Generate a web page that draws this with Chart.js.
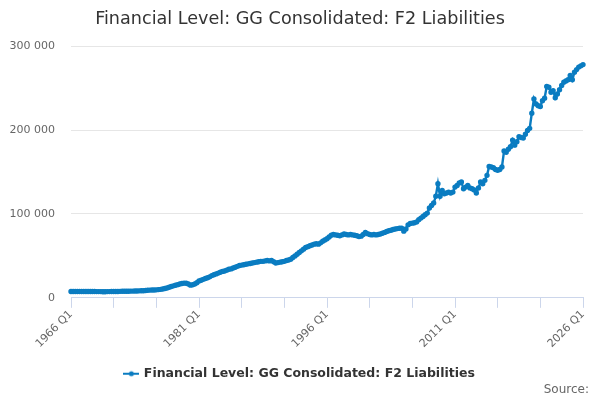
<!DOCTYPE html>
<html>
<head>
<meta charset="utf-8">
<script src="https://cdn.jsdelivr.net/npm/chart.js@4/dist/chart.umd.min.js"></script>
<style>
  html, body { margin: 0; padding: 0; background: #fff; }
  #wrap { width: 600px; height: 400px; }
</style>
</head>
<body>
<div id="wrap"><canvas id="chart"></canvas></div>
<script>
const firstYear = 1966;
const lastYear = 2026;
const seriesName = "Financial Level: GG Consolidated: F2 Liabilities";
const yTicks = [0, 100000, 200000, 300000];

// quarterly values, 1966 Q1 .. 2026 Q1 (one row per year)
const liabilities = [
  7500, 7500, 7600, 7600,
  7600, 7600, 7500, 7600,
  7600, 7500, 7500, 7500,
  7400, 7400, 7400, 7300,
  7300, 7400, 7400, 7500,
  7500, 7600, 7600, 7700,
  7800, 7800, 7900, 7900,
  8000, 8000, 8100, 8200,
  8300, 8400, 8500, 8700,
  9000, 9200, 9300, 9400,
  9500, 9800, 10100, 10500,
  11100, 11800, 12600, 13500,
  14300, 15000, 15700, 16500,
  17000, 17500, 17300, 16500,
  15100, 15500, 16500, 18000,
  20000, 21000, 22000, 23000,
  24000, 25000, 26500, 27500,
  28500, 29500, 30500, 31500,
  32000, 33000, 34000, 34500,
  35500, 36500, 37500, 38500,
  39000, 39500, 40000, 40500,
  41000, 41500, 42000, 42500,
  43000, 43500, 43500, 44000,
  44500, 44000, 44500, 43000,
  41500, 42000, 42500, 43000,
  43500, 44500, 45000, 46000,
  48000, 50000, 52000, 54000,
  56000, 58000, 60000, 61000,
  62000, 63000, 64000, 64500,
  64000, 65500, 67500, 69000,
  70500, 72500, 74500, 75500,
  75000, 74500, 74000, 75000,
  76000, 75500, 75000, 75500,
  75000, 74500, 74000, 73000,
  73500, 75500, 78000, 76500,
  75500, 75000, 75500, 75000,
  75500, 76000, 77000, 78000,
  79000, 80000, 80500, 81500,
  82000, 82500, 83000, 83000,
  79500, 82000, 87000, 88500,
  89000, 89500, 90500, 93000,
  95000, 97000, 99000, 101000,
  107000, 110000, 113000, 121000,
  136000, 121000, 128000, 124000,
  125000, 126000, 125000, 126000,
  132000, 134000, 137000, 138000,
  130000, 132000, 134000, 131000,
  130000, 128500, 125000, 131000,
  138000, 136000, 140000, 146000,
  156500, 156000, 155000, 153000,
  152000, 153000, 156000, 175000,
  173500, 177000, 180000, 188000,
  182000, 186000, 192000, 191000,
  190500, 195000, 199500, 202000,
  220000, 237000, 231000, 229000,
  228000, 235000, 238000, 252000,
  251000, 245000, 247000, 238500,
  243000, 248000, 253000, 257000,
  258500, 260000, 265000, 260000,
  269000, 272000, 275000, 276500,
  278000
];

let quarters = [];
for (let y = firstYear; y <= lastYear; y++) {
    for (let q = 1; q <= 4; q++) {
        if (y === lastYear && q > 1) break;
        quarters.push(y + " Q" + q);
    }
}

const blue = "#0a7cc1";

// legend marker: short line with a dot in the middle
function legendMarker() {
    let c = document.createElement("canvas");
    c.width = 16; c.height = 8;
    let g = c.getContext("2d");
    g.strokeStyle = blue;
    g.lineWidth = 2;
    g.beginPath(); g.moveTo(0, 4); g.lineTo(16, 4); g.stroke();
    g.fillStyle = blue;
    g.beginPath(); g.arc(8, 4, 2.5, 0, Math.PI * 2); g.fill();
    return c;
}

function spaced(v) {
    return String(v).replace(/\B(?=(\d{3})+(?!\d))/g, " ");
}

// "Source:" credit in the bottom right corner
const sourceText = {
    id: "sourceText",
    afterDraw(chart) {
        let ctx = chart.ctx;
        ctx.save();
        ctx.font = "12px 'DejaVu Sans', sans-serif";
        ctx.fillStyle = "#666";
        ctx.textAlign = "right";
        ctx.textBaseline = "middle";
        ctx.fillText("Source:", chart.width - 11, chart.height - 10);
        ctx.restore();
    }
};

Chart.defaults.font.family = "'DejaVu Sans', sans-serif";
Chart.defaults.color = "#666";

new Chart(document.getElementById("chart"), {
    type: "line",
    data: {
        labels: quarters,
        datasets: [{
            label: seriesName,
            data: liabilities,
            borderColor: blue,
            backgroundColor: blue,
            borderWidth: 2.4,
            pointRadius: 1.5,
            pointHoverRadius: 3,
            tension: 0
        }]
    },
    plugins: [sourceText],
    options: {
        responsive: true,
        maintainAspectRatio: false,
        animation: false,
        layout: { padding: { left: 10, right: 10, top: 4, bottom: 10 } },
        plugins: {
            title: {
                display: true,
                text: "Financial Level: GG Consolidated: F2 Liabilities",
                color: "#333",
                font: { size: 17.6, weight: "normal" },
                padding: { top: 5, bottom: 16 }
            },
            legend: {
                position: "bottom",
                labels: {
                    color: "#333",
                    font: { size: 12.5, weight: "bold" },
                    usePointStyle: true,
                    pointStyle: legendMarker(),
                    padding: 8
                }
            },
            tooltip: { enabled: false }
        },
        scales: {
            x: {
                offset: false,
                border: { color: "#ccd6eb" },
                grid: {
                    drawOnChartArea: false,
                    drawTicks: true,
                    tickLength: 10,
                    color: "#ccd6eb"
                },
                ticks: {
                    autoSkip: false,
                    maxRotation: 45,
                    minRotation: 45,
                    color: "#666",
                    font: { size: 11 },
                    padding: 0,
                    callback: function (val, i) {
                        if (i % 60 === 0) return quarters[i];
                        if (i % 20 === 0) return "";
                        return null;
                    }
                },
                afterFit: function (scale) {
                    scale.paddingLeft = 0;
                    scale.paddingRight = 17;
                    scale.height += 9;
                }
            },
            y: {
                min: 0,
                max: 300000,
                border: { display: false },
                grid: { color: "#e6e6e6", drawTicks: false },
                afterBuildTicks: function (axis) {
                    axis.ticks = yTicks.map(v => ({ value: v }));
                },
                afterFit: function (scale) {
                    scale.width = 61;
                },
                ticks: {
                    color: "#666",
                    font: { size: 11 },
                    padding: 16,
                    callback: v => spaced(v)
                }
            }
        }
    }
});
</script>
</body>
</html>
